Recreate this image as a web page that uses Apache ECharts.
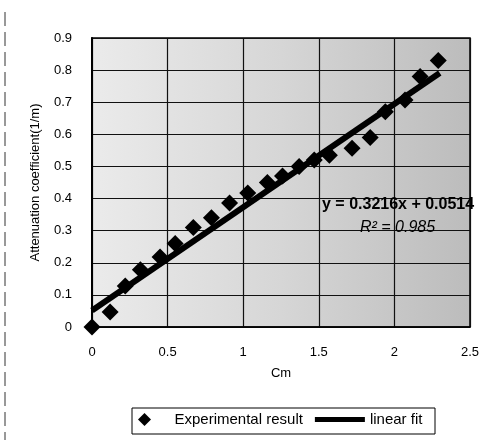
<!DOCTYPE html>
<html>
<head>
<meta charset="utf-8">
<style>
  html, body { margin: 0; padding: 0; background: #fff; }
  #chart { width: 499px; height: 447px; }
</style>
<script src="https://cdn.jsdelivr.net/npm/echarts@6/dist/echarts.min.js"></script>
</head>
<body>
<div id="chart"></div>
<script>
const cmValues = [0, 0.12, 0.22, 0.32, 0.45, 0.55, 0.67, 0.79, 0.91, 1.03, 1.16, 1.26, 1.37, 1.47, 1.57, 1.72, 1.84, 1.94, 2.07, 2.17, 2.29];
const attenValues = [0, 0.047, 0.128, 0.178, 0.218, 0.26, 0.31, 0.34, 0.386, 0.417, 0.45, 0.47, 0.5, 0.52, 0.535, 0.557, 0.59, 0.67, 0.707, 0.78, 0.83];
const fitX = [0, 2.3];
const fitY = [0.0514, 0.791];
const seriesNames = ["Experimental result", "linear fit"];
const fitLabel = "y = 0.3216x + 0.0514";
const r2Label = "R\u00b2 = 0.985";

const FONT = "Liberation Sans, Arial, sans-serif";

const chart = echarts.init(document.getElementById("chart"));

const diamondIcon = "path://M0,-1L1,0L0,1L-1,0Z";
const barIcon = "path://M0,0L50,0L50,5L0,5Z";

chart.setOption({
  backgroundColor: "#fff",
  animation: false,
  grid: {
    left: 92,
    right: 29,
    top: 38,
    bottom: 120,
    show: true,
    borderColor: "#000",
    borderWidth: 1.5,
    backgroundColor: new echarts.graphic.LinearGradient(0, 0, 1, 0, [
      { offset: 0, color: "#ebebeb" },
      { offset: 0.5, color: "#d6d6d6" },
      { offset: 1, color: "#bcbcbc" }
    ])
  },
  xAxis: {
    type: "value",
    min: 0,
    max: 2.5,
    interval: 0.5,
    name: "Cm",
    nameLocation: "middle",
    nameGap: 40,
    nameTextStyle: { color: "#000", fontFamily: FONT, fontSize: 13 },
    axisLine: { show: true, lineStyle: { color: "#000", width: 1.5 } },
    axisTick: { show: false },
    axisLabel: {
      color: "#000",
      fontFamily: FONT,
      fontSize: 13,
      margin: 19,
      formatter: (v) => String(v)
    },
    splitLine: { show: true, lineStyle: { color: "#111", width: 1.2 } }
  },
  yAxis: {
    type: "value",
    min: 0,
    max: 0.9,
    interval: 0.1,
    name: "Attenuation coefficient(1/m)",
    nameLocation: "middle",
    nameGap: 50,
    nameTextStyle: { color: "#000", fontFamily: FONT, fontSize: 13 },
    axisLine: { show: true, lineStyle: { color: "#000", width: 2 } },
    axisTick: { show: false },
    axisLabel: {
      color: "#000",
      fontFamily: FONT,
      fontSize: 13,
      margin: 20,
      formatter: (v) => (v === 0 ? "0" : v.toFixed(1))
    },
    splitLine: { show: true, lineStyle: { color: "#111", width: 1.2 } }
  },
  legend: {
    left: 138,
    top: 412,
    padding: 0,
    itemGap: 12,
    itemWidth: 50,
    itemHeight: 13,
    textStyle: { color: "#000", fontFamily: FONT, fontSize: 15 },
    data: [
      { name: seriesNames[0], icon: diamondIcon },
      { name: seriesNames[1], icon: barIcon }
    ]
  },
  graphic: [
    {
      type: "line",
      shape: { x1: 5, y1: 12, x2: 5, y2: 440 },
      style: { stroke: "#333", lineWidth: 1, lineDash: [14, 6] }
    },
    {
      type: "rect",
      shape: { x: 132, y: 408, width: 303, height: 26 },
      style: { fill: "none", stroke: "#000", lineWidth: 1 },
      z: -1
    },
    {
      type: "text",
      left: 322,
      top: 197,
      z: 10,
      style: {
        text: fitLabel,
        fill: "#000",
        font: "bold 16px " + FONT
      }
    },
    {
      type: "text",
      left: 360,
      top: 220,
      z: 10,
      style: {
        text: r2Label,
        fill: "#000",
        font: "italic 16px " + FONT
      }
    }
  ],
  series: [
    {
      name: seriesNames[1],
      type: "line",
      data: fitX.map((x, i) => [x, fitY[i]]),
      symbol: "none",
      lineStyle: { color: "#000", width: 6 },
      itemStyle: { color: "#000" },
      z: 2
    },
    {
      name: seriesNames[0],
      type: "scatter",
      data: cmValues.map((x, i) => [x, attenValues[i]]),
      symbol: "diamond",
      symbolSize: [17, 17],
      itemStyle: { color: "#000", opacity: 1 },
      z: 3
    }
  ]
});
</script>
</body>
</html>
